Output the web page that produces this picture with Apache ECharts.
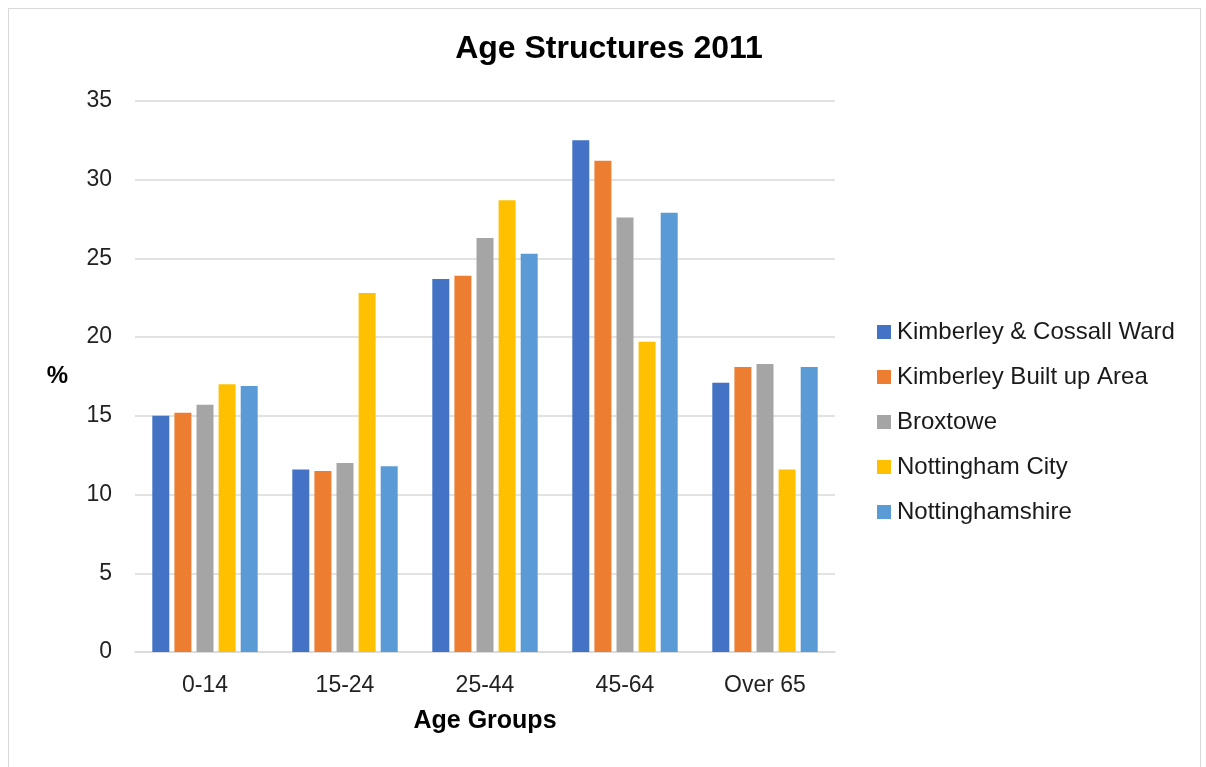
<!DOCTYPE html>
<html>
<head>
<meta charset="utf-8">
<script src="https://cdn.jsdelivr.net/npm/echarts@6/dist/echarts.min.js"></script>
<style>
html,body{margin:0;padding:0;background:#fff;}
#frame{position:absolute;left:8px;top:8px;width:1193px;height:770px;border:1px solid #d9d9d9;box-sizing:border-box;}
#chart{position:absolute;left:0;top:0;width:1206px;height:767px;}
</style>
</head>
<body>
<div id="frame"></div>
<div id="chart"></div>
<script>
const categories = ["0-14", "15-24", "25-44", "45-64", "Over 65"];
const seriesNames = ["Kimberley & Cossall Ward", "Kimberley Built up Area", "Broxtowe", "Nottingham City", "Nottinghamshire"];
const kimberleyCossall = [15.0, 11.6, 23.7, 32.5, 17.1];
const kimberleyBuiltUp = [15.2, 11.5, 23.9, 31.2, 18.1];
const broxtowe = [15.7, 12.0, 26.3, 27.6, 18.3];
const nottinghamCity = [17.0, 22.8, 28.7, 19.7, 11.6];
const nottinghamshire = [16.9, 11.8, 25.3, 27.9, 18.1];
const yTicks = [0, 5, 10, 15, 20, 25, 30, 35];

const colors = ["#4472c4", "#ed7d31", "#a5a5a5", "#ffc000", "#5b9bd5"];
const values = [kimberleyCossall, kimberleyBuiltUp, broxtowe, nottinghamCity, nottinghamshire];
const font = "'Liberation Sans', Arial, Helvetica, sans-serif";

const chart = echarts.init(document.getElementById('chart'), null, {renderer: 'canvas'});
chart.setOption({
  animation: false,
  color: colors,
  textStyle: {fontFamily: font},
  title: {
    text: "Age Structures 2011",
    left: 604, top: 28, textAlign: 'center',
    textStyle: {fontFamily: font, fontSize: 32, fontWeight: 'bold', color: '#000'}
  },
  legend: {
    orient: 'vertical',
    left: 872, top: 315,
    itemWidth: 14, itemHeight: 14, itemGap: 21,
    icon: 'rect',
    textStyle: {fontFamily: font, fontSize: 24, color: '#1a1a1a', padding: [0,0,0,1]},
    data: seriesNames
  },
  grid: {left: 135, right: 371, top: 101, bottom: 115, containLabel: false},
  xAxis: {
    type: 'category',
    data: categories,
    name: 'Age Groups',
    nameLocation: 'middle',
    nameGap: 57,
    nameTextStyle: {fontFamily: font, fontSize: 25, fontWeight: 'bold', color: '#000'},
    axisLine: {lineStyle: {color: '#d9d9d9', width: 1.5}},
    axisTick: {show: false},
    axisLabel: {fontFamily: font, fontSize: 23, color: '#222', margin: 22}
  },
  yAxis: {
    type: 'value',
    min: 0, max: 35, interval: 5,
    name: '%',
    nameLocation: 'middle',
    nameRotate: 0,
    nameGap: 67,
    nameTextStyle: {fontFamily: font, fontSize: 24, fontWeight: 'bold', color: '#000'},
    axisLine: {show: false},
    axisTick: {show: false},
    axisLabel: {fontFamily: font, fontSize: 23, color: '#222', margin: 23,
      formatter: v => yTicks.includes(v) ? String(v) : ''},
    splitLine: {lineStyle: {color: '#d9d9d9', width: 1.5}}
  },
  series: seriesNames.map((n, i) => ({
    name: n,
    type: 'bar',
    data: values[i],
    barWidth: 17,
    barGap: '30%',
    itemStyle: {color: colors[i]}
  }))
});
</script>
</body>
</html>
